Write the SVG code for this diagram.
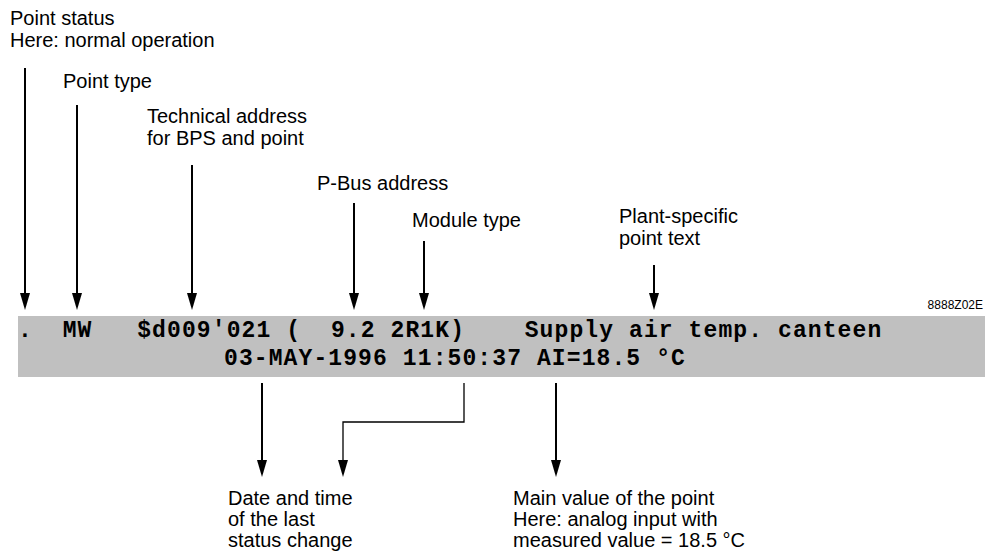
<svg xmlns="http://www.w3.org/2000/svg" width="985" height="556" viewBox="0 0 985 556">
<defs>
<style>
.lbl{font-family:"Liberation Sans",Arial,sans-serif;font-size:20px;fill:#000}
.code{font-family:"Liberation Mono","Courier New",monospace;font-size:23px;font-weight:bold;letter-spacing:1.1px;fill:#000;white-space:pre}
.small{font-family:"Liberation Sans",Arial,sans-serif;font-size:12px;fill:#000}
.arr{stroke:#000;stroke-width:2;fill:none}
.thin{stroke:#000;stroke-width:1.3;fill:none}
</style>
<marker id="ah" viewBox="0 0 17 10" refX="9" refY="5" markerWidth="17" markerHeight="10" markerUnits="userSpaceOnUse" orient="auto">
<path d="M0,0 L17,5 L0,10 z" fill="#000"/>
</marker>
</defs>
<rect width="985" height="556" fill="#fff"/>
<g id="display">
<rect x="18" y="316" width="967" height="61" fill="#c0c0c0"/>
<text class="code" x="18" y="337" xml:space="preserve">.  MW   $d009'021 (  9.2 2R1K)    Supply air temp. canteen</text>
<text class="code" x="224" y="365" xml:space="preserve">03-MAY-1996 11:50:37 AI=18.5 °C</text>
</g>
<g id="figure-id"><text class="small" x="983" y="309" text-anchor="end">8888Z02E</text></g>
<g id="point-status"><text class="lbl" x="10" y="25">Point status</text><text class="lbl" x="10" y="47">Here: normal operation</text></g>
<g id="point-type"><text class="lbl" x="63" y="88">Point type</text></g>
<g id="tech-address"><text class="lbl" x="147" y="123">Technical address</text><text class="lbl" x="147" y="145">for BPS and point</text></g>
<g id="pbus-address"><text class="lbl" x="317" y="190">P-Bus address</text></g>
<g id="module-type"><text class="lbl" x="412" y="227">Module type</text></g>
<g id="plant-text"><text class="lbl" x="619" y="223">Plant-specific</text><text class="lbl" x="619" y="245">point text</text></g>
<g id="date-time"><text class="lbl" x="228" y="505">Date and time</text><text class="lbl" x="228" y="526">of the last</text><text class="lbl" x="228" y="547">status change</text></g>
<g id="main-value"><text class="lbl" x="513" y="505">Main value of the point</text><text class="lbl" x="513" y="526">Here: analog input with</text><text class="lbl" x="513" y="547">measured value = 18.5 °C</text></g>
<g id="connectors">
<line class="arr" x1="25" y1="68" x2="25" y2="302" marker-end="url(#ah)"/>
<line class="arr" x1="77" y1="105" x2="77" y2="302" marker-end="url(#ah)"/>
<line class="arr" x1="192" y1="165" x2="192" y2="302" marker-end="url(#ah)"/>
<line class="arr" x1="354" y1="203" x2="354" y2="302" marker-end="url(#ah)"/>
<line class="arr" x1="424" y1="241" x2="424" y2="302" marker-end="url(#ah)"/>
<line class="arr" x1="654" y1="265" x2="654" y2="302" marker-end="url(#ah)"/>
<line class="arr" x1="262" y1="383" x2="262" y2="469" marker-end="url(#ah)"/>
<path class="thin" d="M464,383 V422 H343 V469" marker-end="url(#ah)"/>
<line class="arr" x1="556" y1="383" x2="556" y2="469" marker-end="url(#ah)"/>
</g>
</svg>
